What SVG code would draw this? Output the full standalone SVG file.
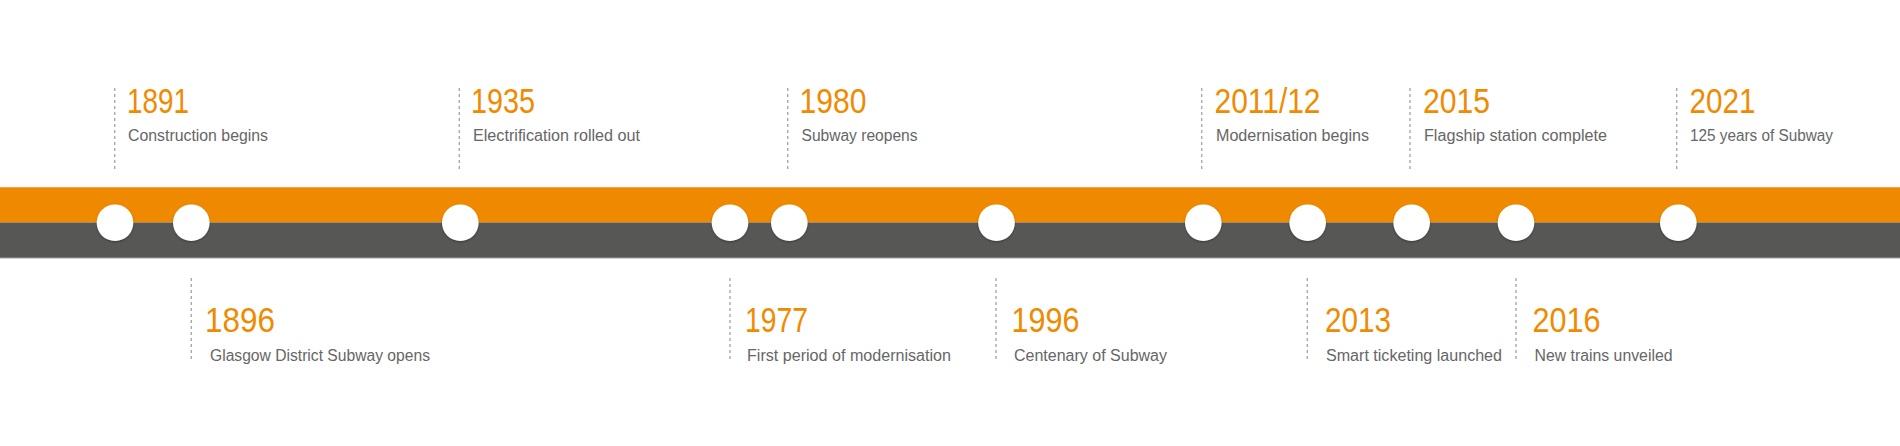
<svg xmlns="http://www.w3.org/2000/svg" width="1900" height="446" viewBox="0 0 1900 446">
<defs>
<style>
.yr{font-family:"Liberation Sans",Arial,sans-serif;font-size:35px;fill:#F08A00;}
.ds{font-family:"Liberation Sans",Arial,sans-serif;font-size:16px;fill:#666666;}
.dash{stroke:#A8A8A8;stroke-width:1.4;stroke-dasharray:3 3;fill:none;}
.dot{fill:#FFFFFF;filter:url(#sh);}
</style>
<filter id="sh" x="-30%" y="-30%" width="160%" height="170%">
<feDropShadow dx="0" dy="1" stdDeviation="0.8" flood-color="#000" flood-opacity="0.35"/>
</filter>
</defs>
<rect width="1900" height="446" fill="#FFFFFF"/>
<g id="track">
<rect x="0" y="187" width="1900" height="35.5" fill="#EF8A00"/>
<rect x="0" y="187" width="1900" height="1" fill="#F4A640"/>
<rect x="0" y="222.5" width="1900" height="35.5" fill="#575756"/>
<rect x="0" y="257.5" width="1900" height="1" fill="#A0A0A0"/>
</g>
<g id="connectors">
<line class="dash" x1="114.7" y1="88" x2="114.7" y2="169"/>
<line class="dash" x1="459.3" y1="88" x2="459.3" y2="169"/>
<line class="dash" x1="787.7" y1="88" x2="787.7" y2="169"/>
<line class="dash" x1="1201.7" y1="88" x2="1201.7" y2="169"/>
<line class="dash" x1="1410" y1="88" x2="1410" y2="169"/>
<line class="dash" x1="1676.7" y1="88" x2="1676.7" y2="169"/>
<line class="dash" x1="191.3" y1="278" x2="191.3" y2="360"/>
<line class="dash" x1="730" y1="278" x2="730" y2="360"/>
<line class="dash" x1="996" y1="278" x2="996" y2="360"/>
<line class="dash" x1="1307.3" y1="278" x2="1307.3" y2="360"/>
<line class="dash" x1="1516" y1="278" x2="1516" y2="360"/>
</g>
<g id="dots">
<circle class="dot" cx="115" cy="222.7" r="18.3"/>
<circle class="dot" cx="191.3" cy="222.7" r="18.3"/>
<circle class="dot" cx="460.3" cy="222.7" r="18.3"/>
<circle class="dot" cx="730" cy="222.7" r="18.3"/>
<circle class="dot" cx="789.3" cy="222.7" r="18.3"/>
<circle class="dot" cx="996.5" cy="222.7" r="18.3"/>
<circle class="dot" cx="1203.3" cy="222.7" r="18.3"/>
<circle class="dot" cx="1307.7" cy="222.7" r="18.3"/>
<circle class="dot" cx="1411.7" cy="222.7" r="18.3"/>
<circle class="dot" cx="1516" cy="222.7" r="18.3"/>
<circle class="dot" cx="1678.3" cy="222.7" r="18.3"/>
</g>
<g id="e1891">
<text class="yr" x="127" y="113" textLength="62" lengthAdjust="spacingAndGlyphs">1891</text>
<text class="ds" x="128" y="141" textLength="140" lengthAdjust="spacingAndGlyphs">Construction begins</text>
</g>
<g id="e1896">
<text class="yr" x="205" y="332" textLength="70" lengthAdjust="spacingAndGlyphs">1896</text>
<text class="ds" x="210" y="361" textLength="220" lengthAdjust="spacingAndGlyphs">Glasgow District Subway opens</text>
</g>
<g id="e1935">
<text class="yr" x="471" y="113" textLength="64" lengthAdjust="spacingAndGlyphs">1935</text>
<text class="ds" x="473" y="141" textLength="167" lengthAdjust="spacingAndGlyphs">Electrification rolled out</text>
</g>
<g id="e1977">
<text class="yr" x="745" y="332" textLength="63" lengthAdjust="spacingAndGlyphs">1977</text>
<text class="ds" x="747" y="361" textLength="204" lengthAdjust="spacingAndGlyphs">First period of modernisation</text>
</g>
<g id="e1980">
<text class="yr" x="799.5" y="113" textLength="67" lengthAdjust="spacingAndGlyphs">1980</text>
<text class="ds" x="801.5" y="141" textLength="116" lengthAdjust="spacingAndGlyphs">Subway reopens</text>
</g>
<g id="e1996">
<text class="yr" x="1011.5" y="332" textLength="68" lengthAdjust="spacingAndGlyphs">1996</text>
<text class="ds" x="1014" y="361" textLength="153" lengthAdjust="spacingAndGlyphs">Centenary of Subway</text>
</g>
<g id="e2011">
<text class="yr" x="1214.5" y="113" textLength="106" lengthAdjust="spacingAndGlyphs">2011/12</text>
<text class="ds" x="1216" y="141" textLength="153" lengthAdjust="spacingAndGlyphs">Modernisation begins</text>
</g>
<g id="e2013">
<text class="yr" x="1325" y="332" textLength="66" lengthAdjust="spacingAndGlyphs">2013</text>
<text class="ds" x="1326" y="361" textLength="176" lengthAdjust="spacingAndGlyphs">Smart ticketing launched</text>
</g>
<g id="e2015">
<text class="yr" x="1423" y="113" textLength="67" lengthAdjust="spacingAndGlyphs">2015</text>
<text class="ds" x="1424" y="141" textLength="183" lengthAdjust="spacingAndGlyphs">Flagship station complete</text>
</g>
<g id="e2016">
<text class="yr" x="1532.5" y="332" textLength="68" lengthAdjust="spacingAndGlyphs">2016</text>
<text class="ds" x="1534.5" y="361" textLength="138" lengthAdjust="spacingAndGlyphs">New trains unveiled</text>
</g>
<g id="e2021">
<text class="yr" x="1689.5" y="113" textLength="66" lengthAdjust="spacingAndGlyphs">2021</text>
<text class="ds" x="1690" y="141" textLength="143" lengthAdjust="spacingAndGlyphs">125 years of Subway</text>
</g>
</svg>
